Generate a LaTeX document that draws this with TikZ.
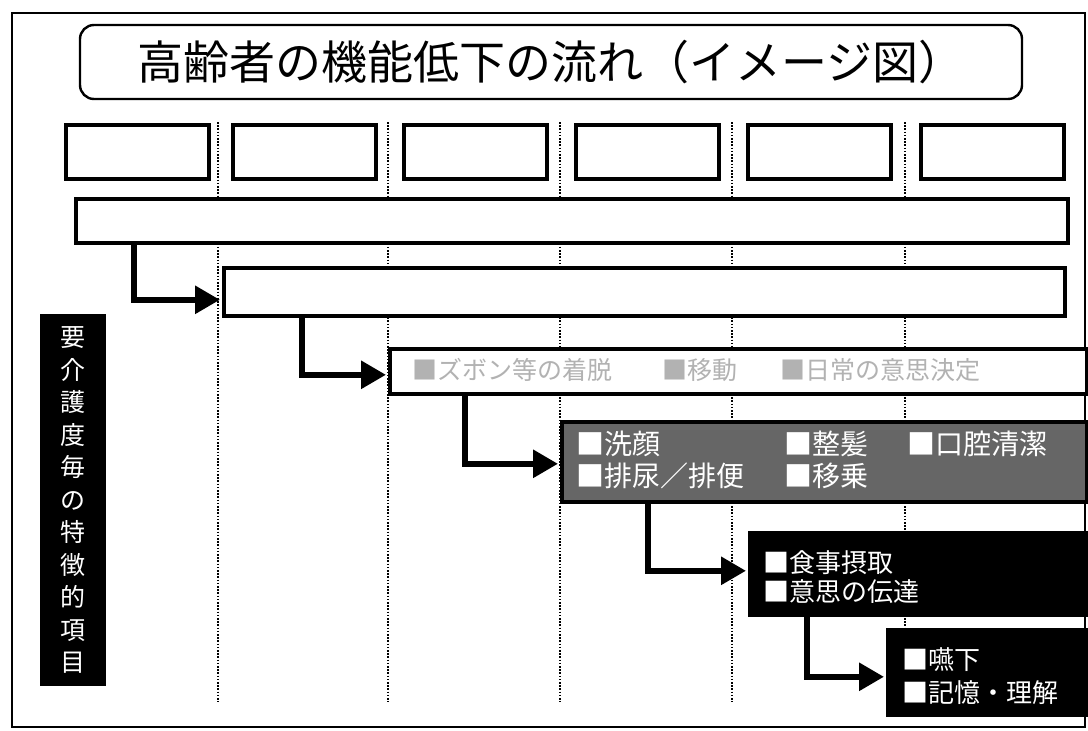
\documentclass[tikz,border=0pt]{standalone}
\usepackage{fontspec}
\setmainfont{Noto Sans CJK JP}
\usetikzlibrary{arrows.meta}
\begin{document}
\begin{tikzpicture}[x=1pt,y=-1pt,
  frame/.style={draw=black,line width=2.4pt},
  hdr/.style={draw=black,line width=3.6pt,fill=white,minimum width=143pt,minimum height=54pt,inner sep=0pt,anchor=north west},
  bar/.style={draw=black,line width=3.6pt,fill=white,inner sep=0pt,anchor=north west},
  guide/.style={line width=1.8pt,dash pattern=on 1.6pt off 1.6pt},
  flow/.style={line width=6pt,-{Triangle[length=25pt,width=27pt]},line join=miter,shorten >=2pt},
  txt/.style={anchor=west,inner sep=0pt,text=white,font=\fontsize{26}{28}\selectfont},
  txtb/.style={txt,font=\fontsize{28}{30}\selectfont},
  txtc/.style={txt,text=black!30,font=\fontsize{25}{27}\selectfont},
]
\useasboundingbox (0,0) rectangle (1088,731);
\draw[frame] (12,13) rectangle (1085,727);
\node[draw,line width=2.4pt,rounded corners=14pt,minimum width=942pt,minimum height=74pt,inner sep=0pt,font=\fontsize{46}{50}\selectfont] (title) at (551,62) {高齢者の機能低下の流れ（イメージ図）};

\foreach \x in {218,388,560,732,905} \draw[guide] (\x,122) -- (\x,702);

\foreach \x [count=\i] in {64,231,402,574,746,919} \node[hdr] (h\i) at (\x,123) {};

\node[bar,minimum width=992pt,minimum height=44pt] (b1) at (74,197) {};
\node[bar,minimum width=841pt,minimum height=48pt] (b2) at (222,266) {};
\node[bar,minimum width=697pt,minimum height=45pt] (b3) at (388,347) {};
\node[bar,fill=black!60,minimum width=525pt,minimum height=80pt] (b4) at (560,420) {};
\node[bar,fill=black,minimum width=337pt,minimum height=82pt] (b5) at (748,531) {};
\node[bar,fill=black,minimum width=199pt,minimum height=85pt] (b6) at (886,628) {};

\node[fill=black,text=white,minimum width=66pt,minimum height=372pt,inner sep=0pt,align=center,font=\fontsize{25}{32.5}\selectfont] (lab) at (73,500) {要\\介\\護\\度\\毎\\の\\特\\徴\\的\\項\\目};

\draw[flow] ([xshift=60pt]b1.south west) |- ([yshift=-8pt]b2.west);
\draw[flow] ([xshift=80pt]b2.south west) |- ([yshift=-3.5pt]b3.west);
\draw[flow] ([xshift=77pt]b3.south west) |- ([yshift=-2pt]b4.west);
\draw[flow] ([xshift=88pt]b4.south west) |- ([yshift=3pt]b5.west);
\draw[flow] ([xshift=59pt]b5.south west) |- ([yshift=-4.5pt]b6.west);

\node[txtc] (t3a) at (412,370) {■ズボン等の着脱};
\node[txtc] (t3b) at (662,370) {■移動};
\node[txtc] (t3c) at (780,370) {■日常の意思決定};

\node[txtb] (t4a) at (576,444) {■洗顔};
\node[txtb] (t4b) at (784,444) {■整髪};
\node[txtb] (t4c) at (907,444) {■口腔清潔};
\node[txtb] (t4d) at (576,476) {■排尿／排便};
\node[txtb] (t4e) at (784,476) {■移乗};

\node[txt] (t5a) at (763,563) {■食事摂取};
\node[txt] (t5b) at (763,592) {■意思の伝達};

\node[txt] (t6a) at (902,660) {■嚥下};
\node[txt] (t6b) at (902,693) {■記憶・理解};
\end{tikzpicture}
\end{document}
